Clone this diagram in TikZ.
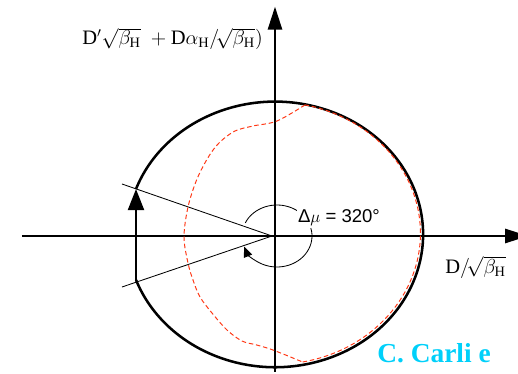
\documentclass[tikz,border=0pt]{standalone}
\usepackage{amsmath}
\usepackage{fontspec}
\setmainfont{Liberation Serif}
\newfontfamily\labelsans{Liberation Sans}
\usepackage{tikz}
\usetikzlibrary{arrows.meta, calc}

\definecolor{tunered}{RGB}{255,55,20}
\definecolor{authorcyan}{RGB}{0,208,250}

\begin{document}
\begin{tikzpicture}[
    axis/.style={line width=0.9pt, -{Triangle[length=5.7mm, width=3.6mm]}},
    orbit/.style={line width=1.8pt},
    kick/.style={line width=0.6pt},
    tune/.style={tunered, line width=0.7pt, dash pattern=on 3.2pt off 2pt},
    phase/.style={line width=0.6pt, -{Triangle[length=2.6mm, width=2.2mm]}},
    axislbl/.style={font=\fontsize{14.6}{17}\selectfont, inner sep=0pt},
    anglelbl/.style={font=\labelsans\fontsize{13.2}{15}\selectfont,
        fill=white, inner sep=1pt},
    author/.style={font=\fontsize{19.5}{22}\selectfont\bfseries,
        text=authorcyan, inner sep=0pt},
]
\useasboundingbox (-6.875,-3.45) rectangle (6.075,5.9);

% === Axes ===
\coordinate (xmin) at (-6.325,0);
\coordinate (xmax) at (6.325,0);
\coordinate (ymin) at (0,-3.4);
\coordinate (ymax) at (0,5.73);
\draw[axis] (xmin) -- (xmax);
\draw[axis] (ymin) -- (ymax);

% === Axis labels ===
\node[axislbl, anchor=base east] (ylbl) at (-0.3,4.78)
    {$\mathrm{D}'\sqrt{\beta_{\mathrm{H}}}\;+\mathrm{D}\alpha_{\mathrm{H}}/\!\sqrt{\beta_{\mathrm{H}}})$};
\node[axislbl, anchor=base west] (xlbl) at (4.25,-0.93)
    {$\mathrm{D}/\!\sqrt{\beta_{\mathrm{H}}}$};

% === Kicked orbit ===
\coordinate (kup) at (-3.475,1.175);
\coordinate (kdn) at (-3.475,-1.095);
\draw[orbit] (kup) arc[start angle=160, end angle=-160,
    x radius=3.7, y radius=3.32];
\draw[orbit, -{Triangle[length=5.3mm, width=4mm]}] (kdn) -- (kup);

% === Lines from the centre ===
\coordinate (ctr) at (-0.075,0);
\coordinate (lup) at (-3.825,1.3);
\coordinate (ldn) at (-3.825,-1.275);
\draw[kick] (ctr) -- (lup);
\draw[kick] (ctr) -- (ldn);

% === Filamented beam ===
\coordinate (tbot) at (0.69,-3.15);
\coordinate (ttop) at (0.752,3.278);
\draw[tune] (tbot) arc[start angle=-79, end angle=78,
    x radius=3.64, y radius=3.28];
\draw[tune] plot[smooth, tension=0.55] coordinates {
    (ttop) (0.05,2.875) (-0.55,2.75) (-1.0,2.625) (-1.375,2.35)
    (-1.65,2.0) (-1.95,1.425) (-2.175,0.725) (-2.275,-0.025)
    (-2.175,-0.675) (-2.05,-1.1) (-1.875,-1.525) (-1.575,-1.925)
    (-1.2,-2.35) (-0.825,-2.625) (-0.475,-2.72) (-0.05,-2.85) (tbot)};

% === Phase advance ===
\coordinate (pc) at (0.05,0);
\draw[phase] ($(pc)+(155:0.875 and 0.775)$)
    arc[start angle=155, end angle=-160, x radius=0.875, y radius=0.775];
\node[anglelbl] (dmu) at (1.6,0.45) {Δ$\mu$ = 320°};

% === Author ===
\node[author, anchor=base west] (auth) at (2.55,-3.175) {C. Carli e};

\end{tikzpicture}
\end{document}
